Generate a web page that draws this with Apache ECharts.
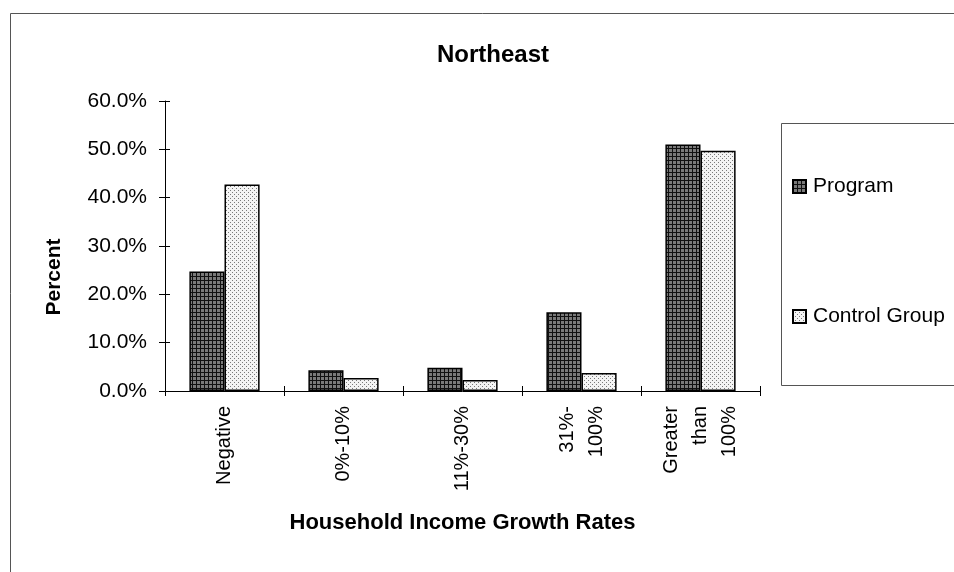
<!DOCTYPE html>
<html>
<head>
<meta charset="utf-8">
<script src="https://cdn.jsdelivr.net/npm/echarts@6/dist/echarts.min.js"></script>
<style>html,body{margin:0;padding:0;background:#fff}#c{width:954px;height:572px}</style>
</head>
<body>
<div id="c"></div>
<script>
const categories = ['Negative', '0%-10%', '11%-30%', '31%-\n100%', 'Greater\nthan\n100%'];
const programValues = [24.7, 4.3, 4.8, 16.3, 51.0];
const controlValues = [42.7, 2.7, 2.3, 3.7, 49.7];
const yTickValues = [0, 10, 20, 30, 40, 50, 60];
const seriesNames = ['Program', 'Control Group'];

function makePattern(kind) {
  const c = document.createElement('canvas');
  c.width = 4; c.height = 4;
  const g = c.getContext('2d');
  if (kind === 'dark') {
    g.fillStyle = '#7a7a7a'; g.fillRect(0, 0, 4, 4);
    g.fillStyle = '#111111';
    g.fillRect(0, 0, 4, 1);
    g.fillRect(0, 0, 1, 4);
  } else {
    g.fillStyle = '#f4f4f4'; g.fillRect(0, 0, 4, 4);
    g.fillStyle = '#7a7a7a';
    g.fillRect(0, 0, 1, 1);
    g.fillRect(2, 2, 1, 1);
  }
  return { image: c, repeat: 'repeat' };
}

const FONT = 'Liberation Sans, Arial, sans-serif';
const chart = echarts.init(document.getElementById('c'));
chart.setOption({
  backgroundColor: '#fff',
  animation: false,
  title: {
    text: 'Northeast', left: 488, top: 38, textAlign: 'center',
    textStyle: { fontFamily: FONT, fontSize: 24, fontWeight: 'bold', color: '#000' }
  },
  legend: {
    orient: 'vertical', left: 792, top: 176, itemGap: 109,
    itemWidth: 13, itemHeight: 13, icon: 'rect', padding: 0,
    textStyle: { fontFamily: FONT, fontSize: 21, color: '#000', padding: [0, 0, 0, 2] },
    data: seriesNames
  },
  graphic: [
    { type: 'rect', shape: { x: 10.5, y: 13.5, width: 960, height: 600 }, style: { fill: 'none', stroke: '#555', lineWidth: 1 }, silent: true, z: -1 },
    { type: 'rect', shape: { x: 781.5, y: 123.5, width: 200, height: 262 }, style: { fill: 'none', stroke: '#555', lineWidth: 1 }, silent: true }
  ],
  grid: { left: 165, right: 194, top: 101, bottom: 181, containLabel: false },
  xAxis: [{
    type: 'category', data: categories,
    axisLine: { lineStyle: { color: '#000', width: 1 } },
    axisTick: { show: true, alignWithLabel: false, length: 5, lineStyle: { color: '#000' } },
    axisLabel: { rotate: 90, margin: 15, fontFamily: FONT, fontSize: 20, color: '#000', lineHeight: 29 },
    name: 'Household Income Growth Rates', nameLocation: 'middle', nameGap: 121,
    nameTextStyle: { fontFamily: FONT, fontSize: 22, fontWeight: 'bold', color: '#000' }
  }, {
    type: 'category', data: categories, position: 'bottom',
    axisLine: { show: false },
    axisTick: { show: true, inside: true, length: 5, lineStyle: { color: '#000' } },
    axisLabel: { show: false }
  }],
  yAxis: [{
    type: 'value', min: 0, max: 60, interval: 10,
    axisLine: { show: true, lineStyle: { color: '#000', width: 1 } },
    axisTick: { show: true, length: 6, lineStyle: { color: '#000' } },
    splitLine: { show: false },
    axisLabel: { margin: 18, fontFamily: FONT, fontSize: 21, color: '#000', formatter: v => v.toFixed(1) + '%' },
    name: 'Percent', nameLocation: 'middle', nameGap: 100, nameRotate: 90,
    nameTextStyle: { fontFamily: FONT, fontSize: 21, fontWeight: 'bold', color: '#000', padding: [0, 62, 0, 0] }
  }, {
    type: 'value', min: 0, max: 60, interval: 10, position: 'left',
    axisLine: { show: false },
    axisTick: { show: true, inside: true, length: 5, lineStyle: { color: '#000' } },
    axisLabel: { show: false }, splitLine: { show: false }
  }],
  series: [{
    name: seriesNames[0], type: 'bar', data: programValues,
    barGap: '0%', barCategoryGap: '41%',
    itemStyle: { color: makePattern('dark'), borderColor: '#000', borderWidth: 1.5 }
  }, {
    name: seriesNames[1], type: 'bar', data: controlValues,
    barGap: '0%', barCategoryGap: '41%',
    itemStyle: { color: makePattern('light'), borderColor: '#000', borderWidth: 1.5 }
  }]
});
</script>
</body>
</html>
